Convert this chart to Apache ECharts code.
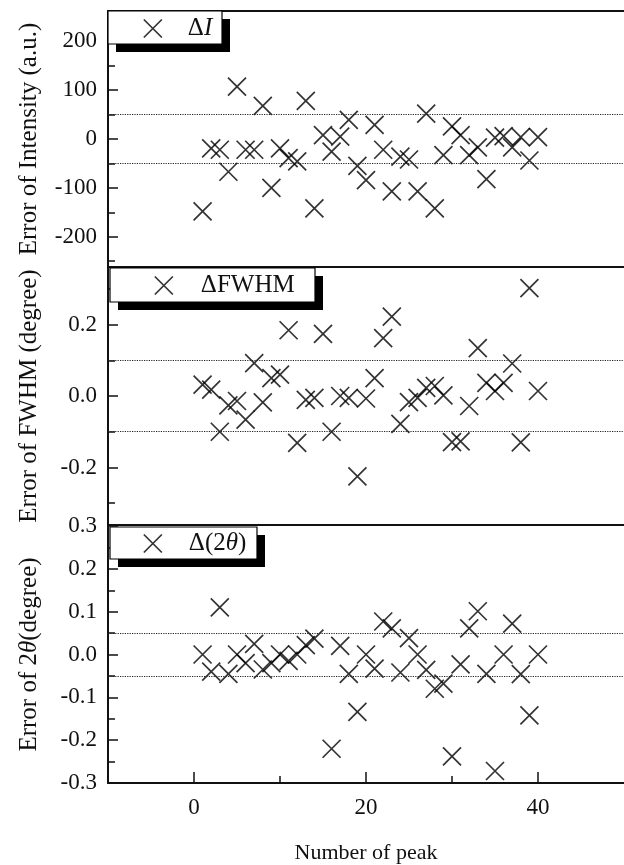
<!DOCTYPE html>
<html><head><meta charset="utf-8">
<script src="https://cdn.jsdelivr.net/npm/echarts@6/dist/echarts.min.js"></script>
<style>html,body{margin:0;padding:0;background:#fff}#c{width:624px;height:865px}</style>
</head><body><div id="c"></div>
<script>
// ---- data ----
const peakNumbers = [1,2,3,4,5,6,7,8,9,10,11,12,13,14,15,16,17,18,19,20,21,22,23,24,25,26,27,28,29,30,31,32,33,34,35,36,37,38,39,40];
const intensityError = [-148,-19,-22,-67,107,-22,-22,68,-100,-19,-39,-46,78,-142,8,-26,5,39,-55,-84,29,-22,-107,-36,-42,-107,52,-142,-33,26,8,-33,-17,-82,3,6,-17,4,-44,4];
const fwhmError = [0.032,0.018,-0.1,-0.026,-0.014,-0.066,0.092,-0.018,0.05,0.06,0.184,-0.131,-0.011,-0.005,0.174,-0.1,0.0,-0.005,-0.225,-0.007,0.05,0.162,0.222,-0.078,-0.017,-0.005,0.023,0.028,0.002,-0.129,-0.127,-0.028,0.134,0.037,0.014,0.037,0.091,-0.13,0.302,0.014];
const twoThetaError = [0.0,-0.04,0.11,-0.045,0.0,-0.02,0.025,-0.035,-0.02,0.0,-0.015,0.0,0.022,0.037,null,-0.22,0.02,-0.045,-0.134,0.0,-0.033,0.077,0.061,-0.042,0.038,0.0,-0.036,-0.08,-0.068,-0.238,-0.023,0.061,0.101,-0.045,-0.272,0.0,0.072,-0.046,-0.142,0.0];
const seriesNames = ['ΔI', 'ΔFWHM', 'Δ(2θ)'];
const xTickLabels = [0, 20, 40];
const xMinorTicks = [10, 30];
const intensityTicks = [-200, -100, 0, 100, 200];
const intensityMinor = [-250, -150, -50, 50, 150, 250];
const fwhmTicks = [-0.2, 0, 0.2];
const fwhmMinor = [-0.3, -0.1, 0.1, 0.3];
const thetaTicks = [-0.3, -0.2, -0.1, 0, 0.1, 0.2, 0.3];
const thetaMinor = [-0.25, -0.15, -0.05, 0.05, 0.15, 0.25];
const intensityBand = [-50, 50];
const fwhmBand = [-0.1, 0.1];
const thetaBand = [-0.05, 0.05];

// ---- chart ----
const FONT = '"Liberation Serif", "Times New Roman", serif';
const INK = '#111';
const chart = echarts.init(document.getElementById('c'), null, {renderer: 'canvas'});
const grids = [
  {left: 108, right: -10, top: 11, height: 256},
  {left: 108, right: -10, top: 267, height: 258},
  {left: 108, right: -10, top: 526, height: 257}
];
const yRanges = [[-262, 262], [-0.361, 0.361], [-0.3, 0.3]];
const yMajor = [intensityTicks, fwhmTicks, thetaTicks];
const yMinor = [intensityMinor, fwhmMinor, thetaMinor];
const yFmt = [v => String(Math.round(v)), v => v.toFixed(1), v => v.toFixed(1)];
const yNames = ['Error of Intensity (a.u.)', 'Error of FWHM (degree)', '{n|Error of 2}{i|θ}{n|(degree)}'];
const bands = [intensityBand, fwhmBand, thetaBand];
const values = [intensityError, fwhmError, twoThetaError];

const lineStyle = {color: INK, width: 2};
const xAxes = [];
for (let i = 0; i < 3; i++) {
  const last = i === 2;
  xAxes.push({
    type: 'value', gridIndex: i, min: -10, max: 50, position: 'bottom',
    axisLine: {show: true, onZero: false, lineStyle},
    splitLine: {show: false},
    axisTick: {show: last, inside: true, length: 11, customValues: xTickLabels, lineStyle: {color: INK, width: 1.5}},
    axisLabel: {show: last, customValues: xTickLabels, margin: 13, fontSize: 23, fontFamily: FONT, color: INK},
    name: last ? 'Number of peak' : '', nameLocation: 'middle', nameGap: 59,
    nameTextStyle: {fontSize: 22, fontFamily: FONT, color: INK}
  });
}
xAxes.push({type: 'value', gridIndex: 0, min: -10, max: 50, position: 'top',
  axisLine: {show: true, onZero: false, lineStyle}, axisTick: {show: false}, axisLabel: {show: false}, splitLine: {show: false}});
xAxes.push({type: 'value', gridIndex: 2, min: -10, max: 50, position: 'bottom',
  axisLine: {show: false, onZero: false}, splitLine: {show: false}, axisLabel: {show: false},
  axisTick: {show: true, inside: true, length: 7, customValues: xMinorTicks, lineStyle: {color: INK, width: 1.5}}});

const yAxes = [];
for (let i = 0; i < 3; i++) {
  yAxes.push({
    type: 'value', gridIndex: i, min: yRanges[i][0], max: yRanges[i][1], position: 'left',
    axisLine: {show: true, onZero: false, lineStyle},
    splitLine: {show: false},
    axisTick: {show: true, inside: true, length: 10, customValues: yMajor[i], lineStyle: {color: INK, width: 1.5}},
    axisLabel: {customValues: yMajor[i], formatter: yFmt[i], margin: 11, fontSize: 23, fontFamily: FONT, color: INK},
    name: yNames[i], nameLocation: 'middle', nameGap: 66,
    nameTextStyle: {fontSize: 25, fontFamily: FONT, color: INK,
      rich: {n: {fontSize: 25, fontFamily: FONT, color: INK}, i: {fontSize: 25, fontFamily: FONT, fontStyle: 'italic', color: INK}}}
  });
}
for (let i = 0; i < 3; i++) {
  yAxes.push({
    type: 'value', gridIndex: i, min: yRanges[i][0], max: yRanges[i][1], position: 'left',
    axisLine: {show: false, onZero: false}, splitLine: {show: false}, axisLabel: {show: false},
    axisTick: {show: true, inside: true, length: 7, customValues: yMinor[i], lineStyle: {color: INK, width: 1.5}}
  });
}

const crossPath = 'path://M0,0L10,10M10,0L0,10';
const markerStyle = {color: 'transparent', borderColor: '#000', borderWidth: 1.7};
const series = [];
for (let i = 0; i < 3; i++) {
  const data = [];
  peakNumbers.forEach((n, k) => { if (values[i][k] !== null) data.push([n, values[i][k]]); });
  series.push({
    type: 'scatter', name: seriesNames[i], xAxisIndex: i, yAxisIndex: i,
    symbol: crossPath, symbolSize: 18, itemStyle: markerStyle, data,
    markLine: {silent: true, symbol: ['none', 'none'], label: {show: false},
      lineStyle: {type: 'dotted', color: '#222', width: 1.2},
      data: bands[i].map(v => ({yAxis: v}))}
  });
}

const legendBase = {
  orient: 'horizontal', itemWidth: 18, itemHeight: 18, z: 20,
  backgroundColor: 'transparent', borderWidth: 0,
  itemStyle: markerStyle, selectedMode: false,
  textStyle: {fontFamily: FONT, fontSize: 25, color: INK, rich: {}}
};
function mkLegend(name, left, top, pad, padText, rich) {
  return Object.assign({}, legendBase, {
    data: [name], left, top, padding: pad,
    formatter: rich,
    textStyle: Object.assign({}, legendBase.textStyle, {rich: {
      p: {fontFamily: FONT, fontSize: 25, lineHeight: 24, color: INK, padding: [0, 0, 0, padText]},
      n: {fontFamily: FONT, fontSize: 25, lineHeight: 24, color: INK},
      it: {fontFamily: FONT, fontSize: 25, lineHeight: 24, color: INK, fontStyle: 'italic'}
    }})
  });
}
const legends = [
  mkLegend(seriesNames[0], 108, 11, [5, 12, 4, 35], 21, '{p|Δ}{it|I}'),
  mkLegend(seriesNames[1], 110, 268, [5, 22, 5, 44], 23, '{p|ΔFWHM}'),
  mkLegend(seriesNames[2], 110, 527, [4, 12, 4, 33], 22, '{p|Δ(2}{it|θ}{n|)}')
];

// legend frames (white box with solid black drop shadow)
const legendBoxes = [[108, 11, 114, 33], [110, 268, 205, 34], [110, 527, 147, 32]];
const graphics = [];
legendBoxes.forEach(b => {
  graphics.push({type: 'rect', z: 10, shape: {x: b[0] + 8, y: b[1] + 8, width: b[2], height: b[3]}, style: {fill: '#000'}});
  graphics.push({type: 'rect', z: 11, shape: {x: b[0], y: b[1], width: b[2], height: b[3]}, style: {fill: '#fff', stroke: '#000', lineWidth: 1.2}});
});

chart.setOption({
  animation: false,
  backgroundColor: '#fff',
  grid: grids,
  xAxis: xAxes,
  yAxis: yAxes,
  legend: legends,
  graphic: graphics,
  series
});
</script></body></html>
